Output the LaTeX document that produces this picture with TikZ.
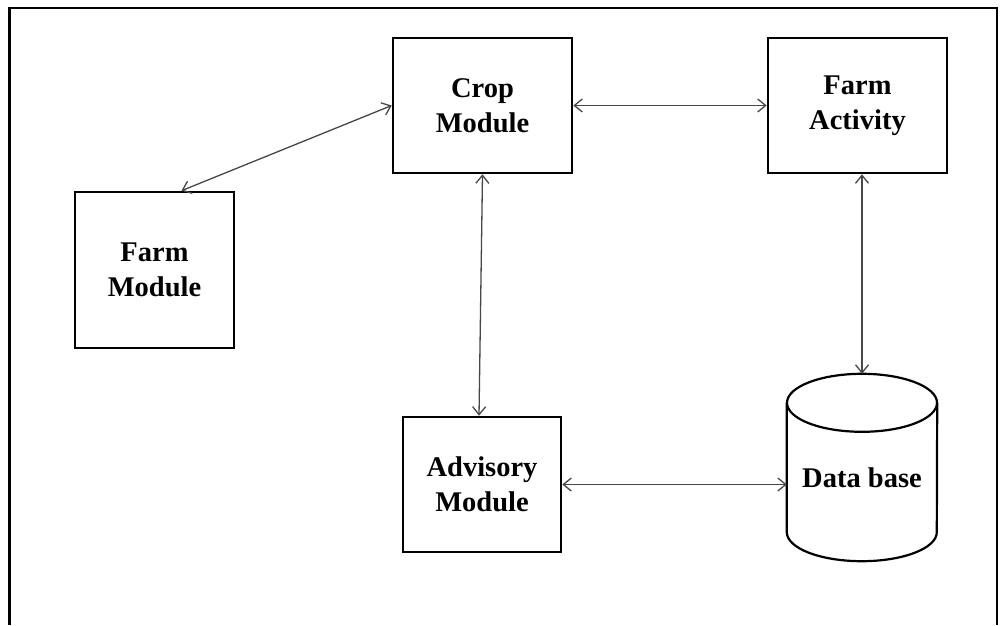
\documentclass[tikz,border=0pt]{standalone}
\usepackage{fontspec}
\setmainfont{Liberation Serif}
\usetikzlibrary{arrows.meta}
\begin{document}
\begin{tikzpicture}[x=1pt,y=1pt,
  box/.style={draw=black, line width=2.6pt, rectangle, align=center,
    font=\bfseries\fontsize{28.5}{35}\selectfont, inner sep=0pt},
  lbl/.style={align=center, font=\bfseries\fontsize{28.5}{35}\selectfont, inner sep=0pt},
  link/.style={draw=black!72, line width=1.3pt,
    {Straight Barb[length=8pt,width=13pt]}-{Straight Barb[length=8pt,width=13pt]}},
  frame/.style={draw=black, line width=2.6pt}]
\useasboundingbox (0,0) rectangle (1000,625);
\draw[frame] (9.5,0) -- (9.5,617) -- (997,617) -- (997,0);

\node[box, minimum width=179pt, minimum height=135pt] (crop) at (482.5,519.5) {Crop\\Module};
\node[box, minimum width=179pt, minimum height=135pt] (fa) at (857.5,519.5) {Farm\\Activity};
\node[box, minimum width=159pt, minimum height=156pt] (fm) at (154.5,355) {Farm\\Module};
\node[box, minimum width=158pt, minimum height=135pt] (adv) at (482,140.5) {Advisory\\Module};
\node[rectangle, inner sep=0pt, minimum width=150pt, minimum height=187pt] (db) at (862,157.5) {};
\node[lbl] (dblabel) at (862,147) {Data base};

% cylinder
\draw[line width=2.2pt] ([yshift=-29pt]db.north west) -- ([yshift=29pt]db.south west)
  arc[start angle=180, end angle=360, x radius=75pt, y radius=29pt]
  -- ([yshift=-29pt]db.north east);
\draw[line width=2.2pt] ([yshift=-29pt]db.north) ellipse[x radius=75pt, y radius=29pt];

\draw[link] (crop.west) -- ([xshift=27pt]fm.north);
\draw[link] (crop.east) -- (fa.west);
\draw[link] (crop.south) -- ([xshift=-3pt]adv.north);
\draw[link] (db.north |- fa.south) -- (db.north);
\draw[link] (adv.east) -- (adv.east -| db.west);
\end{tikzpicture}
\end{document}
